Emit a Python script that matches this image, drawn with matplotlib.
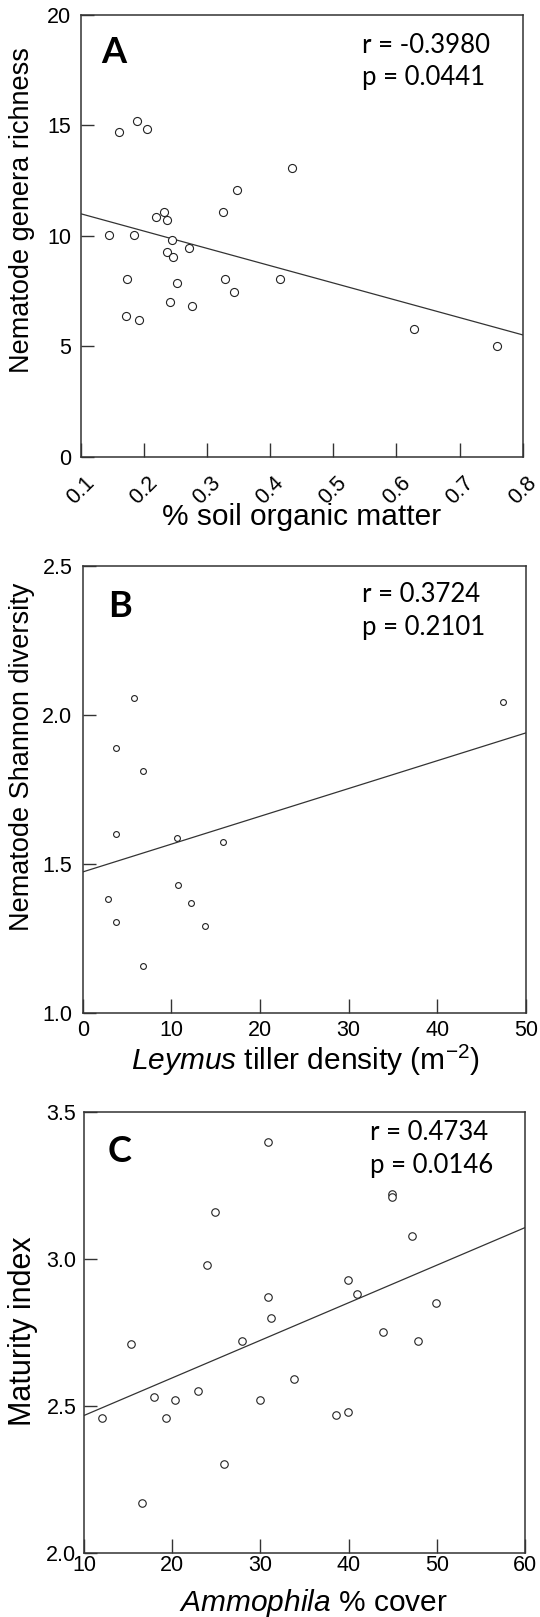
import matplotlib.pyplot as plt
import numpy as np

plt.rcParams['font.family'] = ['Liberation Sans', 'DejaVu Sans']
plt.rcParams['mathtext.fontset'] = 'custom'
plt.rcParams['mathtext.rm'] = 'Liberation Sans'
plt.rcParams['mathtext.it'] = 'Liberation Sans:italic'

# Panel A: % soil organic matter vs nematode genera richness
som = [0.160, 0.189, 0.205, 0.435, 0.348, 0.326, 0.232, 0.220, 0.237, 0.145,
       0.184, 0.244, 0.272, 0.236, 0.246, 0.173, 0.329, 0.415, 0.253, 0.343,
       0.241, 0.276, 0.172, 0.192, 0.628, 0.760]
richness = [14.7, 15.2, 14.85, 13.05, 12.05, 11.05, 11.05, 10.85, 10.7, 10.05,
            10.05, 9.8, 9.45, 9.25, 9.05, 8.05, 8.05, 8.05, 7.85, 7.45,
            7.0, 6.8, 6.35, 6.2, 5.8, 5.02]

# Panel B: Leymus tiller density vs Shannon diversity
leymus = [5.8, 47.4, 3.8, 6.8, 3.8, 10.6, 15.8, 2.8, 10.8, 12.2, 3.8, 13.8, 6.8]
shannon = [2.057, 2.043, 1.888, 1.811, 1.600, 1.588, 1.575, 1.384, 1.428,
           1.368, 1.307, 1.292, 1.158]

# Panel C: Ammophila % cover vs maturity index
ammophila = [30.9, 44.9, 44.9, 24.9, 47.2, 23.9, 39.9, 40.9, 30.9, 49.9,
             31.2, 43.9, 15.3, 27.9, 47.9, 33.8, 22.9, 17.9, 20.3, 29.9,
             39.9, 38.6, 12.0, 19.3, 25.9, 16.6]
maturity = [3.40, 3.22, 3.21, 3.16, 3.08, 2.98, 2.93, 2.88, 2.87, 2.85,
            2.80, 2.75, 2.71, 2.72, 2.72, 2.59, 2.55, 2.53, 2.52, 2.52,
            2.48, 2.47, 2.46, 2.46, 2.30, 2.17]

W, H = 540, 1617
fig = plt.figure(figsize=(W / 100, H / 100), dpi=100)


def rect(l, r, t, b):
    return [l / W, 1 - b / H, (r - l) / W, (b - t) / H]


def ftext(x, y, s, **kw):
    fig.text(x / W, 1 - y / H, s, **kw)


def panel(box, x, y, xlim, ylim, xticks, yticks, xfmt, yfmt, ms, xpad, ypad):
    ax = fig.add_axes(rect(*box))
    ax.plot(x, y, 'o', mfc='white', mec='#222222', ms=ms, mew=0.8, zorder=3)
    # least-squares fit line across the full x range
    slope, icpt = np.polyfit(x, y, 1)
    xs = np.array(xlim)
    ax.plot(xs, icpt + slope * xs, color='#333333', lw=0.9, zorder=2)
    ax.set_xlim(xlim)
    ax.set_ylim(ylim)
    ax.set_xticks(xticks)
    ax.set_yticks(yticks)
    ax.set_xticklabels([xfmt.format(v) for v in xticks])
    ax.set_yticklabels([yfmt.format(v) for v in yticks])
    for s in ax.spines.values():
        s.set_color('#333333')
        s.set_linewidth(1.1)
    ax.tick_params(axis='x', direction='in', length=10, width=1,
                   color='#333333', labelsize=15.5, pad=xpad)
    ax.tick_params(axis='y', direction='in', length=9, width=1,
                   color='#333333', labelsize=15.5, pad=ypad)
    return ax


# A
axA = panel((80.7, 522.7, 14.7, 456.7), som, richness, (0.1, 0.8), (0, 20),
            [0.1, 0.2, 0.3, 0.4, 0.5, 0.6, 0.7, 0.8], [0, 5, 10, 15, 20],
            '{:g}', '{:g}', 5.8, 11, 7)
for lab in axA.get_xticklabels():
    lab.set_rotation(45)
    lab.set_ha('center')

# B
panel((82.7, 526, 566, 1013), leymus, shannon, (0, 50), (1.0, 2.5),
      [0, 10, 20, 30, 40, 50], [1.0, 1.5, 2.0, 2.5],
      '{:g}', '{:.1f}', 4.2, 5, 7.5)

# C
panel((84, 525, 1112.3, 1552.5), ammophila, maturity, (10, 60), (2.0, 3.5),
      [10, 20, 30, 40, 50, 60], [2.0, 2.5, 3.0, 3.5],
      '{:g}', '{:.1f}', 5.4, 2, 5.5)

# axis titles
ftext(22, 210, 'Nematode genera richness', rotation=90, ha='center',
      va='center', fontsize=19.5)
ftext(301.7, 525, '% soil organic matter', ha='center', va='baseline',
      fontsize=21.5)
ftext(22, 757, 'Nematode Shannon diversity', rotation=90, ha='center',
      va='center', fontsize=19.5)
ftext(305, 1070, r'$\it{Leymus}$ tiller density (m$^{-2}$)', ha='center',
      va='baseline', fontsize=21.5)
ftext(23, 1331, 'Maturity index', rotation=90, ha='center', va='center',
      fontsize=22)
ftext(313, 1611, r'$\it{Ammophila}$ % cover', ha='center', va='baseline',
      fontsize=21.5)

# panel letters and stats
stat_font = ['Lato', 'DejaVu Sans']
ftext(101.7, 63.3, 'A', fontsize=26, fontweight='bold', family=stat_font)
ftext(361.7, 53.3, 'r = -0.3980', fontsize=18.5, family=stat_font)
ftext(361.7, 85, 'p = 0.0441', fontsize=18.5, family=stat_font)

ftext(108, 617.3, 'B', fontsize=26, fontweight='bold', family=stat_font)
ftext(361.7, 601.7, 'r = 0.3724', fontsize=18.5, family=stat_font)
ftext(361.7, 635, 'p = 0.2101', fontsize=18.5, family=stat_font)

ftext(108, 1161.7, 'C', fontsize=26, fontweight='bold', family=stat_font)
ftext(370, 1140, 'r = 0.4734', fontsize=18.5, family=stat_font)
ftext(370, 1173.3, 'p = 0.0146', fontsize=18.5, family=stat_font)

fig.savefig('out.png', dpi=100)
